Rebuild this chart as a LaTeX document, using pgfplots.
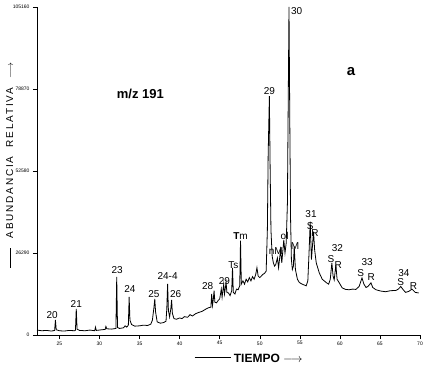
\documentclass[border=0pt]{standalone}
\usepackage{pgfplots}
\pgfplotsset{compat=1.18}
\usepackage{fontspec}
\setmainfont{Liberation Sans}
\begin{document}
\begin{tikzpicture}
\begin{axis}[
 at={(0,0)}, anchor=south west,
 scale only axis, width=383pt, height=328pt,
 xmin=22.2, xmax=70, ymin=0, ymax=100,
 axis lines*=left,
 xtick={25,30,...,70},
 ytick={0,25,50,75,100},
 yticklabels={0,26290,52580,78870,105160},
 tick align=outside, tick style={black, thin}, major tick length=4pt,
 ticklabel style={font=\fontsize{5}{6}\selectfont},
 xticklabel style={yshift=1pt},
 /pgf/number format/assume math mode=true,
 clip=false,
 axis line style={black, thin},
 every node/.append style={font=\fontsize{10}{12}\selectfont},
]
\addplot[black, line width=0.8pt] coordinates {
(22.2,1.5) (22.8,1.3) (23.4,1.4) (24.0,1.2) (24.4,1.4) (24.5,4.6) (24.6,1.6) (25.0,1.3) (25.6,1.2) (26.2,1.4) (26.9,1.3) (27.0,1.5) (27.1,8.0) (27.2,1.8) (27.5,1.4) (28.2,1.3) (28.8,1.5) (29.4,1.3) (29.5,2.4) (29.6,1.4) (30.3,1.6) (30.7,1.7) (30.8,2.6) (30.9,1.9) (31.5,1.8) (32.05,2.0) (32.15,17.7) (32.25,2.3) (32.5,2.0) (33.0,2.2) (33.2,2.8) (33.4,2.4) (33.6,3.0) (33.7,11.6) (33.8,4.5) (34.0,3.2) (34.4,2.7) (35.0,2.8) (35.5,3.0) (36.0,2.9) (36.4,3.3) (36.6,4.5) (36.8,8.5) (36.9,11.0) (37.0,7.0) (37.2,4.0) (37.6,3.6) (38.0,3.8) (38.3,4.2) (38.4,8.0) (38.5,15.6) (38.6,7.5) (38.75,5.5) (38.9,8.0) (39.0,10.7) (39.1,6.5) (39.3,5.0) (39.6,4.8) (40.0,5.2) (40.3,5.0) (40.6,5.6) (41.0,5.4) (41.3,6.2) (41.6,5.8) (42.0,6.5) (42.4,6.9) (42.8,7.2) (43.2,7.8) (43.6,8.3) (43.9,8.5) (44.0,12.5) (44.1,9.0) (44.2,10.8) (44.3,13.5) (44.4,10.0) (44.6,9.8) (44.8,10.5) (45.0,11.0) (45.2,14.0) (45.3,11.5) (45.5,15.5) (45.6,12.5) (45.8,16.0) (45.9,13.0) (46.1,12.8) (46.3,12.0) (46.5,13.5) (46.6,20.5) (46.7,13.0) (46.9,12.5) (47.1,14.0) (47.3,13.8) (47.5,15.0) (47.6,28.8) (47.7,15.5) (47.9,16.5) (48.1,15.5) (48.3,17.0) (48.5,16.2) (48.7,17.5) (48.9,16.5) (49.1,17.8) (49.3,17.0) (49.5,18.5) (49.65,20.5) (49.8,18.0) (50.0,17.5) (50.2,18.0) (50.4,18.5) (50.6,18.8) (50.8,19.5) (50.95,32) (51.05,55) (51.2,72.8) (51.3,50) (51.4,32) (51.55,24) (51.7,22) (51.85,21) (52.0,21.5) (52.2,23.5) (52.35,20.5) (52.6,26) (52.75,22) (53.0,29) (53.15,25) (53.3,28) (53.45,40) (53.55,70) (53.65,100) (53.75,65) (53.85,35) (53.95,23) (54.07,20) (54.2,21) (54.3,27) (54.45,20) (54.7,17) (54.94,16) (55.3,15.5) (55.8,15) (56.0,16.5) (56.15,25) (56.3,34.6) (56.45,23) (56.71,31.5) (56.85,26) (57.05,22) (57.42,19) (57.8,17) (58.29,16) (58.6,15.5) (58.8,17) (59.0,22) (59.15,18) (59.29,16.8) (59.5,21.4) (59.65,17) (59.9,16) (60.28,14.4) (60.7,13.9) (61.15,13.8) (61.6,14.0) (62.0,13.9) (62.4,14.8) (62.76,17.4) (63.0,15.5) (63.26,14.5) (63.5,14.8) (63.88,15.9) (64.1,14.5) (64.5,13.8) (65.1,13.4) (65.7,13.2) (66.3,13.5) (67.0,13.6) (67.3,14) (67.6,14.8) (67.9,13.8) (68.2,13.0) (68.6,13.3) (69.0,14.0) (69.4,13.0) (69.84,12.8)
};
\node at (axis cs:24.1,6.1) {20};
\node at (axis cs:27.1,9.5) {21};
\node at (axis cs:32.2,19.9) {23};
\node at (axis cs:33.8,14) {24};
\node at (axis cs:36.8,12.5) {25};
\node at (axis cs:38.5,18) {24-4};
\node at (axis cs:39.5,12.5) {26};
\node at (axis cs:43.5,15) {28};
\node at (axis cs:45.6,16.5) {29};
\node at (axis cs:46.7,21.4) {Ts};
\node at (axis cs:47.6,30.3) {\textbf{T}m};
\node at (axis cs:51.2,74.3) {29};
\node at (axis cs:54.6,98.8) {30};
\node at (axis cs:52.0,25.7) {nM};
\node at (axis cs:53.1,30.3) {ol};
\node at (axis cs:54.4,27) {M};
\node at (axis cs:56.4,37) {31};
\node at (axis cs:56.3,33.3) {S};
\node at (axis cs:56.9,31.2) {R};
\node at (axis cs:59.7,26.6) {32};
\node at (axis cs:58.9,23.2) {S};
\node at (axis cs:59.8,21.4) {R};
\node at (axis cs:63.4,22.3) {33};
\node at (axis cs:62.6,19) {S};
\node at (axis cs:63.9,17.7) {R};
\node at (axis cs:68.0,19) {34};
\node at (axis cs:67.6,16.2) {S};
\node at (axis cs:69.2,15) {R};
\node[font=\fontsize{13}{15}\selectfont\bfseries] at (axis cs:35.1,73.4) {m/z 191};
\node[font=\fontsize{15}{17}\selectfont\bfseries] at (axis cs:61.4,80.4) {a};
\node[font=\fontsize{12}{14}\selectfont\bfseries] at (axis cs:48.6,-7.0) {\rule[0.35em]{3em}{0.5pt}\ TIEMPO\ $\longrightarrow$};
\node[rotate=90, font=\fontsize{10}{12}\selectfont\addfontfeatures{LetterSpace=18}] at (axis cs:18.8,51.8) {\rule[0.3em]{2em}{0.5pt}\ \ ABUNDANCIA\ \ RELATIVA\ \ $\longrightarrow$};
\end{axis}
\pgfresetboundingbox
\path[use as bounding box] (-37pt,-30pt) rectangle (390pt,335pt);
\end{tikzpicture}
\end{document}
